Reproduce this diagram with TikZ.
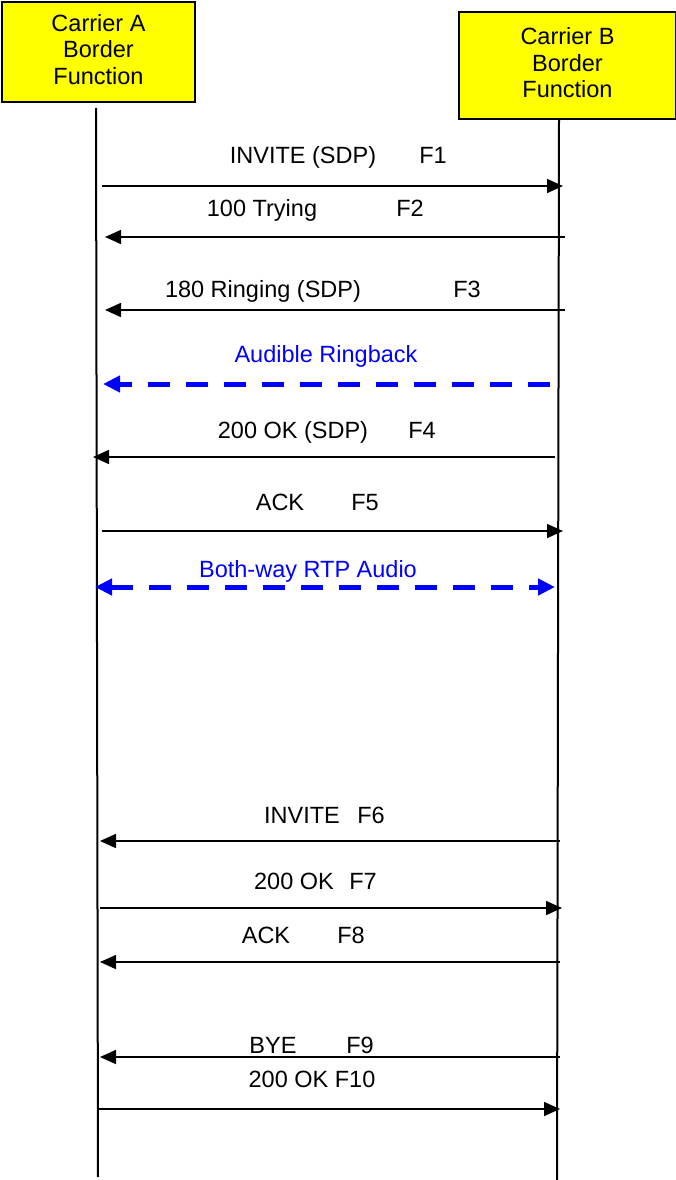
\documentclass[tikz,border=0pt]{standalone}
\usepackage{fontspec}
\setmainfont{Liberation Sans}
\usetikzlibrary{arrows.meta}
\definecolor{boxyellow}{RGB}{255,255,0}
\definecolor{rtpblue}{RGB}{0,0,255}
\begin{document}
\begin{tikzpicture}[x=1pt,y=-1pt,>={Triangle[length=16pt,width=14pt]},
  party/.style={draw,line width=2.5pt,fill=boxyellow,inner sep=0pt,align=center,text depth=6pt,font=\fontsize{23.5}{26.5}\selectfont},
  life/.style={line width=2pt},
  msg/.style={->,line width=1.6pt},
  media/.style={rtpblue,line width=5pt,dash pattern=on 22pt off 16pt,>={Triangle[length=17pt,width=16pt]}},
  lbl/.style={anchor=base,font=\fontsize{23.5}{26.5}\selectfont},
  mlbl/.style={lbl,text=rtpblue}]
  \useasboundingbox (0,0) rectangle (675,1180);
  % parties
  \node[party,minimum width=193pt,minimum height=100pt] (carA) at (98.5,52) {Carrier A\\Border\\Function};
  \node[party,minimum width=217pt,minimum height=107pt] (carB) at (567.5,65.5) {Carrier B\\Border\\Function};
  \coordinate (topA) at (96,108);
  \coordinate (botA) at (98,1177);
  \coordinate (topB) at (559,119);
  \coordinate (botB) at (557,1180);
  \draw[life] (topA) -- (botA);
  \draw[life] (topB) -- (botB);
  % F1
  \node[lbl] (l1) at (303,164) {INVITE (SDP)};
  \node[lbl] (n1) at (433,164) {F1};
  \coordinate (f1a) at (102,186);
  \coordinate (f1b) at (563,186);
  \draw[msg] (f1a) -- (f1b);
  % F2
  \node[lbl] (l2) at (262,216) {100 Trying};
  \node[lbl] (n2) at (410,216) {F2};
  \coordinate (f2a) at (565,237);
  \coordinate (f2b) at (105,237);
  \draw[msg] (f2a) -- (f2b);
  % F3
  \node[lbl] (l3) at (263,297) {180 Ringing (SDP)};
  \node[lbl] (n3) at (467,297) {F3};
  \coordinate (f3a) at (565,310);
  \coordinate (f3b) at (105,310);
  \draw[msg] (f3a) -- (f3b);
  % ringback
  \node[mlbl] (lrb) at (326,362) {Audible Ringback};
  \coordinate (rba) at (565,384);
  \coordinate (rbb) at (103,384);
  \draw[media,dash phase=23pt,->] (rba) -- (rbb);
  % F4
  \node[lbl] (l4) at (293,438) {200 OK (SDP)};
  \node[lbl] (n4) at (422,438) {F4};
  \coordinate (f4a) at (555,457);
  \coordinate (f4b) at (93,457);
  \draw[msg] (f4a) -- (f4b);
  % F5
  \node[lbl] (l5) at (280,510) {ACK};
  \node[lbl] (n5) at (365,510) {F5};
  \coordinate (f5a) at (102,531);
  \coordinate (f5b) at (563,531);
  \draw[msg] (f5a) -- (f5b);
  % both-way audio
  \node[mlbl] (lrtp) at (308,577) {Both-way RTP Audio};
  \coordinate (rtpa) at (95,587);
  \coordinate (rtpb) at (555,587);
  \draw[media,<->] (rtpa) -- (rtpb);
  % F6
  \node[lbl] (l6) at (302,823) {INVITE};
  \node[lbl] (n6) at (371,823) {F6};
  \coordinate (f6a) at (560,841);
  \coordinate (f6b) at (100,841);
  \draw[msg] (f6a) -- (f6b);
  % F7
  \node[lbl] (l7) at (294,889) {200 OK};
  \node[lbl] (n7) at (363,889) {F7};
  \coordinate (f7a) at (100,908);
  \coordinate (f7b) at (562,908);
  \draw[msg] (f7a) -- (f7b);
  % F8
  \node[lbl] (l8) at (266,943) {ACK};
  \node[lbl] (n8) at (351,943) {F8};
  \coordinate (f8a) at (560,962);
  \coordinate (f8b) at (100,962);
  \draw[msg] (f8a) -- (f8b);
  % F9
  \node[lbl] (l9) at (273,1053) {BYE};
  \node[lbl] (n9) at (360,1053) {F9};
  \coordinate (f9a) at (560,1057);
  \coordinate (f9b) at (100,1057);
  \draw[msg] (f9a) -- (f9b);
  % F10
  \node[lbl] (l10) at (312,1087) {200 OK F10};
  \coordinate (f10a) at (98,1109);
  \coordinate (f10b) at (560,1109);
  \draw[msg] (f10a) -- (f10b);
\end{tikzpicture}
\end{document}
